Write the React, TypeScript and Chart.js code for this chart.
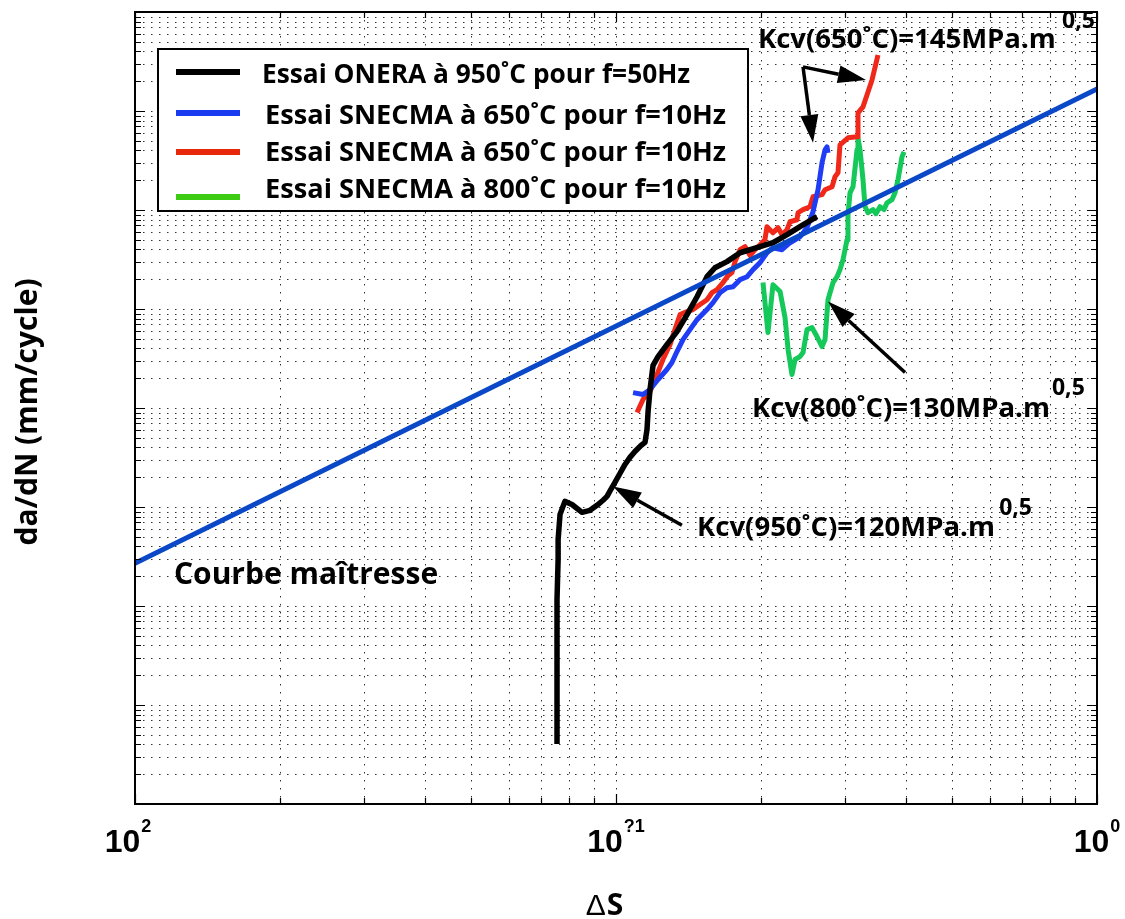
import React, { useEffect, useRef } from 'react';
import { Chart, registerables } from 'chart.js';

Chart.register(...registerables);

// ---------------- Data ----------------
const xMin = 0.01;
const xMax = 1;
const yMin = 1e-8;
const yMax = 1;

const xTickValues = [0.01, 0.1, 1];
const xTickMantissas = ['10', '10', '10'];
const xTickExponents = ['2', '?1', '0'];

const xAxisTitle = 'S';
const xAxisSymbol = 'Δ';
const yAxisTitle = 'da/dN (mm/cycle)';

const seriesLabels = [
  'Essai ONERA à 950˚C pour f=50Hz',
  'Essai SNECMA à 650˚C pour f=10Hz',
  'Essai SNECMA à 650˚C pour f=10Hz',
  'Essai SNECMA à 800˚C pour f=10Hz',
];
const masterLabel = 'Courbe maîtresse';

const masterX = [0.01, 1];
const masterY = [2.7e-6, 0.167];

const oneraX = [
  0.0754, 0.0754, 0.0754, 0.0754, 0.0758, 0.0758, 0.0765, 0.0783, 0.081, 0.085,
  0.0883, 0.0913, 0.094, 0.0958, 0.0976, 0.0995, 0.1019, 0.1044, 0.1069, 0.1095,
  0.1127, 0.1149, 0.116, 0.1166, 0.1177, 0.1194, 0.1223, 0.1276, 0.1339, 0.1405,
  0.1474, 0.1546, 0.1606, 0.1701, 0.1811, 0.1993, 0.212, 0.2268, 0.2413, 0.2617,
];
const oneraY = [
  4.03e-8, 1.15e-7, 3.66e-7, 1.17e-6, 2.96e-6, 4.71e-6, 8.43e-6, 1.14e-5, 1.06e-5, 8.83e-6,
  9.25e-6, 1.04e-5, 1.17e-5, 1.28e-5, 1.51e-5, 1.77e-5, 2.18e-5, 2.69e-5, 3.17e-5, 3.64e-5,
  4.18e-5, 4.49e-5, 6.07e-5, 9.22e-5, 1.54e-4, 2.69e-4, 3.31e-4, 4.37e-4, 5.91e-4, 8.78e-4,
  1.33e-3, 2.12e-3, 2.61e-3, 3.01e-3, 3.7e-3, 4.26e-3, 4.67e-3, 5.63e-3, 6.78e-3, 8.55e-3,
];

const snecmaBlueX = [
  0.1085, 0.1138, 0.1177, 0.1223, 0.1276, 0.1307, 0.1339, 0.1378, 0.1425, 0.1474,
  0.1546, 0.1591, 0.1645, 0.1701, 0.1751, 0.1811, 0.1873, 0.1927, 0.1993, 0.206,
  0.212, 0.2214, 0.23, 0.2413, 0.2495, 0.2568, 0.263, 0.2655, 0.2681, 0.272,
  0.2746, 0.2759,
];
const snecmaBlueY = [
  1.43e-4, 1.37e-4, 1.54e-4, 1.94e-4, 2.45e-4, 2.88e-4, 3.72e-4, 4.91e-4, 6.19e-4, 7.81e-4,
  9.86e-4, 1.16e-3, 1.46e-3, 1.64e-3, 1.68e-3, 1.98e-3, 2.12e-3, 2.5e-3, 2.94e-3, 3.7e-3,
  4.16e-3, 3.97e-3, 4.67e-3, 5.37e-3, 6.62e-3, 9.6e-3, 1.6e-2, 2.17e-2, 3.0e-2, 4.05e-2,
  4.35e-2, 3.78e-2,
];

const snecmaRedX = [
  0.1106, 0.1138, 0.1177, 0.1217, 0.1252, 0.1295, 0.1326, 0.1359, 0.1405, 0.1446,
  0.1495, 0.1546, 0.1583, 0.1622, 0.1669, 0.1709, 0.1742, 0.1768, 0.1811, 0.1855,
  0.19, 0.1945, 0.1993, 0.204, 0.206, 0.212, 0.2172, 0.2214, 0.2268, 0.23,
  0.2378, 0.239, 0.2448, 0.2531, 0.2568, 0.2681, 0.272, 0.2813, 0.2853, 0.2894,
  0.2922, 0.3036, 0.317, 0.3185, 0.3262, 0.3325, 0.3406, 0.3505,
];
const snecmaRedY = [
  9.01e-5, 1.22e-4, 1.47e-4, 2.18e-4, 3.09e-4, 4.37e-4, 6.19e-4, 8.78e-4, 9.41e-4, 9.86e-4,
  1.11e-3, 1.24e-3, 1.46e-3, 1.57e-3, 1.85e-3, 2.17e-3, 2.33e-3, 3.01e-3, 3.97e-3, 4.26e-3,
  3.46e-3, 3.97e-3, 4.46e-3, 5.01e-3, 6.78e-3, 5.89e-3, 6.62e-3, 5.63e-3, 6.32e-3, 7.61e-3,
  7.97e-3, 9.38e-3, 1.01e-2, 1.08e-2, 1.36e-2, 1.43e-2, 1.6e-2, 1.72e-2, 2.17e-2, 2.38e-2,
  4.55e-2, 5.36e-2, 5.48e-2, 9.57e-2, 0.11, 0.145, 0.206, 0.368,
];

const snecma800X = [
  0.2021, 0.207, 0.212, 0.2193, 0.2246, 0.2279, 0.2322, 0.2356, 0.2413, 0.2448,
  0.2495, 0.2555, 0.2617, 0.2681, 0.272, 0.2759, 0.2826, 0.2881, 0.2922, 0.2964,
  0.2993, 0.3022, 0.3036, 0.3066, 0.311, 0.317, 0.3185, 0.3216, 0.3262, 0.3294,
  0.3341, 0.3422, 0.3471, 0.3539, 0.3607, 0.3659, 0.3748, 0.3802, 0.3857, 0.3932,
  0.397,
];
const snecma800Y = [
  1.85e-3, 5.78e-4, 1.76e-3, 1.5e-3, 8.18e-4, 3.89e-4, 2.18e-4, 3.09e-4, 3.31e-4, 3.63e-4,
  6.19e-4, 6.49e-4, 5.27e-4, 4.17e-4, 4.91e-4, 1.24e-3, 1.85e-3, 2.12e-3, 2.5e-3, 3.15e-3,
  3.97e-3, 5.01e-3, 8.96e-3, 1.49e-2, 1.72e-2, 4.05e-2, 5.36e-2, 4.05e-2, 2.02e-2, 1.08e-2,
  9.38e-3, 1.01e-2, 9.17e-3, 1.08e-2, 1.01e-2, 1.18e-2, 1.27e-2, 1.49e-2, 2.02e-2, 3.44e-2,
  3.87e-2,
];

// annotation texts (anchored in data coordinates)
const kcvTexts = ['Kcv(650˚C)=145MPa.m', 'Kcv(800˚C)=130MPa.m', 'Kcv(950˚C)=120MPa.m'];
const kcvExponent = '0,5';
const kcvTextAt = [
  [0.1973, 0.433],
  [0.1918, 8.02e-5],
  [0.1474, 5.05e-6],
];
const kcvExpAt = [
  [0.846, 0.69],
  [0.806, 1.34e-4],
  [0.626, 8.23e-6],
];
const masterLabelAt = [0.01205, 1.66e-6];
const arrowsFrom = [
  [0.2448, 0.279],
  [0.2448, 0.279],
  [0.399, 2.28e-4],
  [0.1371, 6.53e-6],
];
const arrowsTo = [
  [0.331, 0.206],
  [0.2568, 0.0477],
  [0.2759, 1.19e-3],
  [0.0986, 1.61e-5],
];

// ---------------- Styles ----------------
const TEXT_FONT = '"Open Sans", "Noto Sans", sans-serif';
const TICK_FONT = '"Liberation Sans", Arial, sans-serif';
const seriesColors = ['#000000', '#1f3df5', '#f0281a', '#14c95a'];
const legendColors = ['#000000', '#1a3cf0', '#e8280c', '#3ccc14'];
const masterColor = '#0a48c8';
const tickLabelShift = [-7, 0, 0];

const legendBox = { dx: 23, dy: 37, w: 590, h: 162 };
const legendRows = [
  { lineY: 23, textX: 104, textY: 34, size: 26.3 },
  { lineY: 64, textX: 107, textY: 75, size: 27.2 },
  { lineY: 103, textX: 107, textY: 112, size: 27.2 },
  { lineY: 148, textX: 107, textY: 149, size: 27.2 },
];

function decadeValues(lo: number, hi: number) {
  const out: { v: number; major: boolean }[] = [];
  const e0 = Math.round(Math.log10(lo));
  const e1 = Math.round(Math.log10(hi));
  for (let e = e0; e < e1; e++) {
    for (let m = 1; m <= 9; m++) out.push({ v: m * Math.pow(10, e), major: m === 1 });
  }
  out.push({ v: hi, major: true });
  return out;
}

function drawArrow(ctx: any, x0: number, y0: number, x1: number, y1: number) {
  const ang = Math.atan2(y1 - y0, x1 - x0);
  const headLen = 28;
  const headHalf = 9;
  const bx = x1 - headLen * Math.cos(ang);
  const by = y1 - headLen * Math.sin(ang);
  ctx.beginPath();
  ctx.moveTo(x0, y0);
  ctx.lineTo(bx, by);
  ctx.stroke();
  ctx.beginPath();
  ctx.moveTo(x1, y1);
  ctx.lineTo(bx + headHalf * Math.sin(ang), by - headHalf * Math.cos(ang));
  ctx.lineTo(bx - headHalf * Math.sin(ang), by + headHalf * Math.cos(ang));
  ctx.closePath();
  ctx.fill();
}

const decorPlugin = {
  id: 'decor',
  beforeDatasetsDraw(chart: any) {
    const { ctx, chartArea: a, scales } = chart;
    const xs = scales.x;
    const ys = scales.y;
    ctx.save();
    ctx.strokeStyle = 'rgba(0,0,0,0.8)';
    ctx.lineWidth = 1;
    ctx.setLineDash([1.5, 6.5]);
    for (const t of decadeValues(xMin, xMax)) {
      const p = Math.round(xs.getPixelForValue(t.v)) + 0.5;
      ctx.beginPath();
      ctx.moveTo(p, a.top);
      ctx.lineTo(p, a.bottom);
      ctx.stroke();
    }
    for (const t of decadeValues(yMin, yMax)) {
      const p = Math.round(ys.getPixelForValue(t.v)) + 0.5;
      ctx.beginPath();
      ctx.moveTo(a.left, p);
      ctx.lineTo(a.right, p);
      ctx.stroke();
    }
    ctx.restore();
  },
  afterDatasetsDraw(chart: any) {
    const { ctx, chartArea: a, scales } = chart;
    const xs = scales.x;
    const ys = scales.y;
    const px = (p: number[]) => [xs.getPixelForValue(p[0]), ys.getPixelForValue(p[1])];
    ctx.save();
    // arrows
    ctx.strokeStyle = '#000';
    ctx.fillStyle = '#000';
    ctx.lineWidth = 3.5;
    ctx.lineCap = 'butt';
    for (let i = 0; i < arrowsFrom.length; i++) {
      const [x0, y0] = px(arrowsFrom[i]);
      const [x1, y1] = px(arrowsTo[i]);
      drawArrow(ctx, x0, y0, x1, y1);
    }
    // Kcv texts
    ctx.textAlign = 'left';
    ctx.textBaseline = 'alphabetic';
    for (let i = 0; i < kcvTexts.length; i++) {
      const [tx, ty] = px(kcvTextAt[i]);
      ctx.font = `bold 27.5px ${TEXT_FONT}`;
      ctx.fillText(kcvTexts[i], tx, ty);
      const [ex, ey] = px(kcvExpAt[i]);
      ctx.font = `bold 23px ${TEXT_FONT}`;
      ctx.fillText(kcvExponent, ex, ey);
    }
    // master curve label
    {
      const [tx, ty] = px(masterLabelAt);
      ctx.font = `bold 30px ${TEXT_FONT}`;
      ctx.fillText(masterLabel, tx, ty);
    }
    // legend
    const lx = a.left + legendBox.dx;
    const ly = a.top + legendBox.dy;
    ctx.fillStyle = '#fff';
    ctx.fillRect(lx, ly, legendBox.w, legendBox.h);
    ctx.strokeStyle = '#000';
    ctx.lineWidth = 2;
    ctx.strokeRect(lx, ly, legendBox.w, legendBox.h);
    for (let i = 0; i < seriesLabels.length; i++) {
      const r = legendRows[i];
      ctx.strokeStyle = legendColors[i];
      ctx.lineWidth = 6;
      ctx.beginPath();
      ctx.moveTo(lx + 18, ly + r.lineY);
      ctx.lineTo(lx + 82, ly + r.lineY);
      ctx.stroke();
      ctx.fillStyle = '#000';
      ctx.font = `bold ${r.size}px ${TEXT_FONT}`;
      ctx.fillText(seriesLabels[i], lx + r.textX, ly + r.textY);
    }
    ctx.restore();
  },
  afterDraw(chart: any) {
    const { ctx, chartArea: a, scales } = chart;
    const xs = scales.x;
    const ys = scales.y;
    ctx.save();
    ctx.strokeStyle = '#000';
    // inner ticks
    ctx.lineWidth = 1.2;
    for (const t of decadeValues(xMin, xMax)) {
      const p = Math.round(xs.getPixelForValue(t.v)) + 0.5;
      const len = t.major ? 10 : 6;
      ctx.beginPath();
      ctx.moveTo(p, a.bottom);
      ctx.lineTo(p, a.bottom - len);
      ctx.moveTo(p, a.top);
      ctx.lineTo(p, a.top + len);
      ctx.stroke();
    }
    for (const t of decadeValues(yMin, yMax)) {
      const p = Math.round(ys.getPixelForValue(t.v)) + 0.5;
      const len = t.major ? 10 : 6;
      ctx.beginPath();
      ctx.moveTo(a.left, p);
      ctx.lineTo(a.left + len, p);
      ctx.moveTo(a.right, p);
      ctx.lineTo(a.right - len, p);
      ctx.stroke();
    }
    // frame
    ctx.lineWidth = 2;
    ctx.strokeRect(a.left, a.top, a.right - a.left, a.bottom - a.top);
    // x tick labels
    ctx.fillStyle = '#000';
    ctx.textBaseline = 'alphabetic';
    ctx.textAlign = 'left';
    for (let i = 0; i < xTickValues.length; i++) {
      const p = xs.getPixelForValue(xTickValues[i]) + tickLabelShift[i];
      ctx.font = `bold 32px ${TICK_FONT}`;
      const wb = ctx.measureText(xTickMantissas[i]).width;
      ctx.font = `bold 18px ${TICK_FONT}`;
      const we = ctx.measureText(xTickExponents[i]).width;
      const x0 = p - (wb + we + 1) / 2;
      ctx.font = `bold 32px ${TICK_FONT}`;
      ctx.fillText(xTickMantissas[i], x0, a.bottom + 48);
      ctx.font = `bold 18px ${TICK_FONT}`;
      ctx.fillText(xTickExponents[i], x0 + wb + 1, a.bottom + 28);
    }
    // x axis title: ΔS
    {
      const cx = (a.left + a.right) / 2 - 12;
      ctx.font = `30px ${TICK_FONT}`;
      const w1 = ctx.measureText(xAxisSymbol).width;
      ctx.font = `bold 30px ${TEXT_FONT}`;
      const w2 = ctx.measureText(xAxisTitle).width;
      const x0 = cx - (w1 + w2) / 2;
      ctx.font = `30px ${TICK_FONT}`;
      ctx.fillText(xAxisSymbol, x0, a.bottom + 111);
      ctx.font = `bold 30px ${TEXT_FONT}`;
      ctx.fillText(xAxisTitle, x0 + w1 + 1, a.bottom + 111);
    }
    // y axis title
    ctx.save();
    ctx.translate(28, (a.top + a.bottom) / 2 + 4);
    ctx.rotate(-Math.PI / 2);
    ctx.textAlign = 'center';
    ctx.textBaseline = 'middle';
    ctx.font = `bold 30px ${TEXT_FONT}`;
    ctx.fillText(yAxisTitle, 0, 0);
    ctx.restore();
    ctx.restore();
  },
};

function series(xs: number[], ys: number[]) {
  return xs.map((x, i) => ({ x, y: ys[i] }));
}

export default function App() {
  const ref = useRef<HTMLCanvasElement>(null);
  useEffect(() => {
    const canvas = ref.current;
    if (!canvas) return;
    const common = {
      pointRadius: 0,
      tension: 0,
      fill: false,
      borderJoinStyle: 'round',
      borderCapStyle: 'butt',
    };
    const chart = new Chart(canvas, {
      type: 'line',
      data: {
        datasets: [
          { ...common, label: masterLabel, data: series(masterX, masterY), borderColor: masterColor, borderWidth: 5 },
          { ...common, label: seriesLabels[0], data: series(oneraX, oneraY), borderColor: seriesColors[0], borderWidth: 5.5 },
          { ...common, label: seriesLabels[1], data: series(snecmaBlueX, snecmaBlueY), borderColor: seriesColors[1], borderWidth: 5 },
          { ...common, label: seriesLabels[2], data: series(snecmaRedX, snecmaRedY), borderColor: seriesColors[2], borderWidth: 5 },
          { ...common, label: seriesLabels[3], data: series(snecma800X, snecma800Y), borderColor: seriesColors[3], borderWidth: 5 },
        ] as any,
      },
      options: {
        responsive: false,
        animation: false,
        devicePixelRatio: 1,
        events: [],
        layout: { padding: { left: 135, right: 28, top: 12, bottom: 115 } },
        plugins: { legend: { display: false }, tooltip: { enabled: false } },
        scales: {
          x: { type: 'logarithmic', min: xMin, max: xMax, display: false },
          y: { type: 'logarithmic', min: yMin, max: yMax, display: false },
        },
      } as any,
      plugins: [decorPlugin as any],
    });
    return () => chart.destroy();
  }, []);
  return (
    <div style={{ position: 'fixed', left: 0, top: 0, width: 1125, height: 919, background: '#fff' }}>
      <canvas ref={ref} width={1125} height={919} style={{ display: 'block' }} />
    </div>
  );
}
